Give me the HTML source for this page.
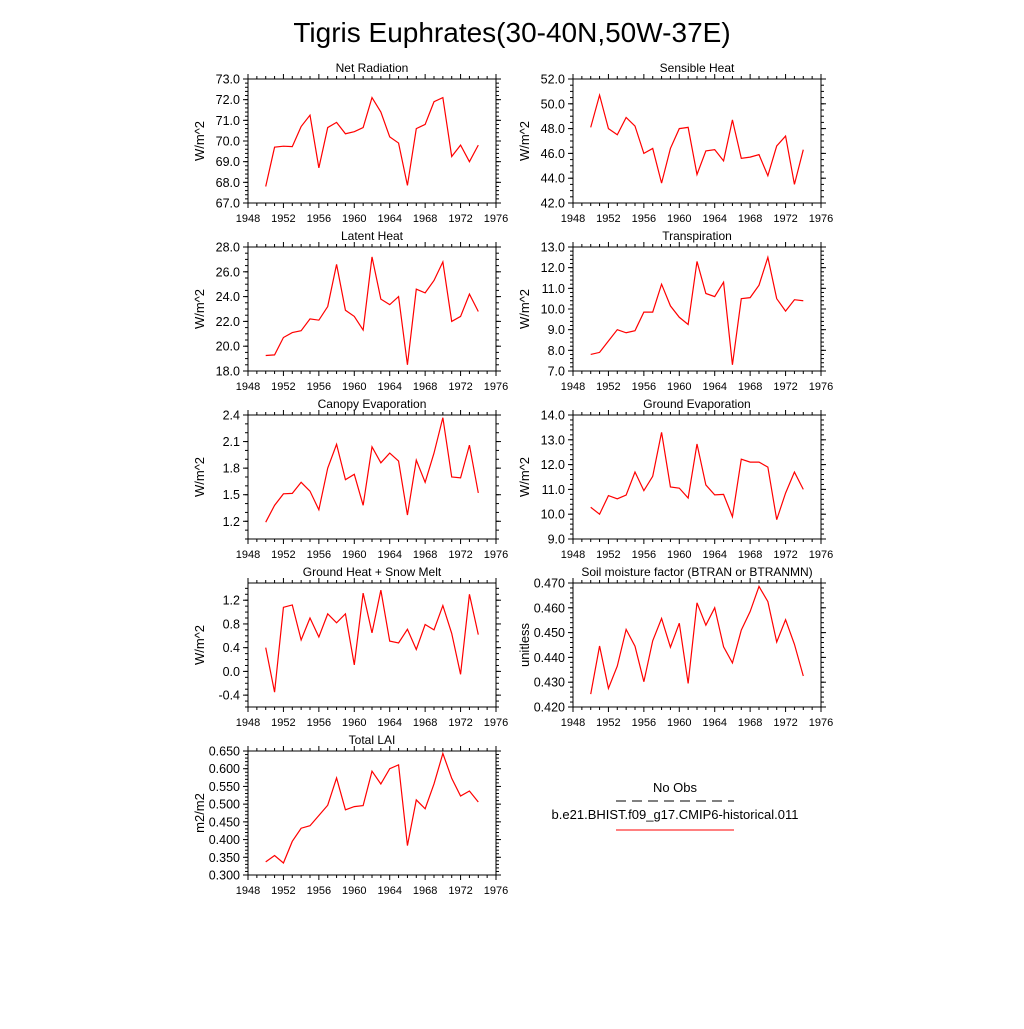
<!DOCTYPE html>
<html><head><meta charset="utf-8"><style>
body{margin:0;background:#fff}
svg text{font-family:"Liberation Sans",sans-serif;fill:#000}
</style></head><body>
<svg id="fig" width="1024" height="1024" viewBox="0 0 1024 1024" xmlns="http://www.w3.org/2000/svg">
<rect width="1024" height="1024" fill="#fff"/>
<text x="512" y="42" font-size="28" text-anchor="middle">Tigris Euphrates(30-40N,50W-37E)</text>
<g>
<text x="675" y="792" font-size="13" text-anchor="middle">No Obs</text>
<line x1="616" y1="801" x2="734" y2="801" stroke="#000" stroke-width="1" stroke-dasharray="10,6"/>
<text x="675" y="819" font-size="13" text-anchor="middle">b.e21.BHIST.f09_g17.CMIP6-historical.011</text>
<line x1="616" y1="830" x2="734" y2="830" stroke="#f00" stroke-width="1"/>
</g>
</svg>
<script>
const years = [];
for (let y = 1950; y <= 1974; y++) years.push(y);
const xTickLabels = ["1948","1952","1956","1960","1964","1968","1972","1976"];
const netRadiation = [67.8,69.7,69.75,69.73,70.7,71.25,68.7,70.65,70.9,70.35,70.45,70.65,72.1,71.4,70.2,69.9,67.85,70.6,70.8,71.9,72.1,69.25,69.8,69.0,69.8];
const sensibleHeat = [48.1,50.7,48.0,47.5,48.9,48.2,46.0,46.4,43.6,46.4,48.0,48.1,44.3,46.2,46.3,45.4,48.7,45.6,45.7,45.9,44.2,46.6,47.4,43.5,46.3];
const latentHeat = [19.25,19.3,20.7,21.1,21.25,22.2,22.1,23.2,26.6,22.9,22.4,21.3,27.2,23.8,23.35,24.0,18.5,24.6,24.3,25.3,26.8,22.0,22.4,24.2,22.8];
const transpiration = [7.8,7.9,8.45,9.0,8.85,8.95,9.85,9.85,11.2,10.15,9.6,9.25,12.3,10.75,10.6,11.3,7.3,10.5,10.55,11.15,12.5,10.5,9.9,10.45,10.4];
const canopyEvap = [1.19,1.38,1.51,1.515,1.64,1.54,1.33,1.80,2.07,1.67,1.73,1.38,2.04,1.86,1.97,1.88,1.27,1.89,1.64,1.97,2.37,1.70,1.69,2.06,1.52];
const groundEvap = [10.28,10.0,10.75,10.62,10.77,11.7,10.95,11.53,13.3,11.1,11.05,10.65,12.83,11.18,10.78,10.8,9.9,12.22,12.1,12.1,11.9,9.78,10.85,11.7,11.0];
const groundHeat = [0.4,-0.35,1.08,1.12,0.53,0.9,0.58,0.97,0.82,0.97,0.11,1.32,0.65,1.37,0.51,0.48,0.71,0.37,0.79,0.7,1.11,0.64,-0.05,1.3,0.62];
const soilMoisture = [0.4252,0.4446,0.4275,0.4365,0.4513,0.4445,0.4302,0.4467,0.4557,0.4441,0.4538,0.4295,0.4620,0.4530,0.4600,0.4443,0.4378,0.4510,0.4585,0.4686,0.4625,0.4462,0.4552,0.4453,0.4325];
const totalLAI = [0.337,0.355,0.334,0.395,0.432,0.439,0.468,0.497,0.574,0.484,0.493,0.496,0.593,0.557,0.600,0.611,0.383,0.512,0.487,0.557,0.643,0.573,0.523,0.537,0.506];
const netRadTicks = ["67.0","68.0","69.0","70.0","71.0","72.0","73.0"];
const sensTicks = ["42.0","44.0","46.0","48.0","50.0","52.0"];
const latentTicks = ["18.0","20.0","22.0","24.0","26.0","28.0"];
const transpTicks = ["7.0","8.0","9.0","10.0","11.0","12.0","13.0"];
const canopyTicks = ["1.2","1.5","1.8","2.1","2.4"];
const gevapTicks = ["9.0","10.0","11.0","12.0","13.0","14.0"];
const gheatTicks = ["-0.4","0.0","0.4","0.8","1.2"];
const soilTicks = ["0.420","0.430","0.440","0.450","0.460","0.470"];
const laiTicks = ["0.300","0.350","0.400","0.450","0.500","0.550","0.600","0.650"];

const NS = "http://www.w3.org/2000/svg";
const svg = document.getElementById("fig");
function mk(tag, attrs, parent){const e=document.createElementNS(NS,tag);for(const k in attrs)e.setAttribute(k,attrs[k]);parent.appendChild(e);return e;}

const panels = [
 {id:"net-radiation",title:"Net Radiation",unit:"W/m^2",data:netRadiation,ticks:netRadTicks,ymin:67,ymax:73,minor:0.2,col:0,row:0},
 {id:"sensible-heat",title:"Sensible Heat",unit:"W/m^2",data:sensibleHeat,ticks:sensTicks,ymin:42,ymax:52,minor:0.5,col:1,row:0},
 {id:"latent-heat",title:"Latent Heat",unit:"W/m^2",data:latentHeat,ticks:latentTicks,ymin:18,ymax:28,minor:0.5,col:0,row:1},
 {id:"transpiration",title:"Transpiration",unit:"W/m^2",data:transpiration,ticks:transpTicks,ymin:7,ymax:13,minor:0.2,col:1,row:1},
 {id:"canopy-evaporation",title:"Canopy Evaporation",unit:"W/m^2",data:canopyEvap,ticks:canopyTicks,ymin:1.0,ymax:2.4,minor:0.1,col:0,row:2},
 {id:"ground-evaporation",title:"Ground Evaporation",unit:"W/m^2",data:groundEvap,ticks:gevapTicks,ymin:9,ymax:14,minor:0.2,col:1,row:2},
 {id:"ground-heat-snow-melt",title:"Ground Heat + Snow Melt",unit:"W/m^2",data:groundHeat,ticks:gheatTicks,ymin:-0.6,ymax:1.49,minor:0.1,col:0,row:3},
 {id:"soil-moisture-factor",title:"Soil moisture factor (BTRAN or BTRANMN)",unit:"unitless",data:soilMoisture,ticks:soilTicks,ymin:0.42,ymax:0.47,minor:0.002,col:1,row:3},
 {id:"total-lai",title:"Total LAI",unit:"m2/m2",data:totalLAI,ticks:laiTicks,ymin:0.3,ymax:0.65,minor:0.01,col:0,row:4}
];

panels.forEach(p=>{
  const L = p.col===0?248:573, W=248, T=79+p.row*168, H=124;
  const g = mk("g",{},svg);
  
  
  const xs = v => L + (v-1948)/(1976-1948)*W;
  const ys = v => T + H - (v-p.ymin)/(p.ymax-p.ymin)*H;
  // minor x ticks
  for(let yr=1948; yr<=1976; yr++){
    const major = (yr-1948)%4===0, len = major?5:3;
    mk("line",{x1:xs(yr),y1:T+H,x2:xs(yr),y2:T+H+len,stroke:"#000","stroke-width":1},g);
    mk("line",{x1:xs(yr),y1:T,x2:xs(yr),y2:T-len,stroke:"#000","stroke-width":1},g);
  }
  xTickLabels.forEach(t=>{
    const tx = mk("text",{x:xs(+t),y:T+H+19,"font-size":11,"text-anchor":"middle"},g);
    
    
    tx.textContent=t;
  });
  // minor y ticks
  const n = Math.round((p.ymax-p.ymin)/p.minor);
  const start = Math.ceil(p.ymin/p.minor - 1e-6);
  for(let k=start; k*p.minor<=p.ymax+1e-9; k++){
    const v = k*p.minor;
    mk("line",{x1:L,y1:ys(v),x2:L-3,y2:ys(v),stroke:"#000","stroke-width":1},g);
    mk("line",{x1:L+W,y1:ys(v),x2:L+W+3,y2:ys(v),stroke:"#000","stroke-width":1},g);
  }
  p.ticks.forEach(t=>{
    const v=+t;
    mk("line",{x1:L,y1:ys(v),x2:L-5,y2:ys(v),stroke:"#000","stroke-width":1},g);
    mk("line",{x1:L+W,y1:ys(v),x2:L+W+5,y2:ys(v),stroke:"#000","stroke-width":1},g);
    const tx = mk("text",{x:L-8,y:ys(v)+4.5,"font-size":12.5,"text-anchor":"end"},g);
    
    
    tx.textContent=t;
  });
  const fr = mk("rect",{x:L,y:T,width:W,height:H,fill:"none",stroke:"#000","stroke-width":1},g);
  
  
  const ti = mk("text",{x:L+W/2,y:T-7,"font-size":12,"text-anchor":"middle"},g);
  
  
  ti.textContent=p.title;
  const yl = mk("text",{x:0,y:0,"font-size":13,"text-anchor":"middle",transform:`translate(${L-44},${T+H/2}) rotate(-90)`},g);
  
  
  yl.textContent=p.unit;
  const pts = p.data.map((v,i)=>xs(years[i]).toFixed(2)+","+ys(v).toFixed(2)).join(" ");
  const pl = mk("polyline",{points:pts,fill:"none",stroke:"#f00","stroke-width":1.2},g);
  
  
});
</script>
</body></html>
